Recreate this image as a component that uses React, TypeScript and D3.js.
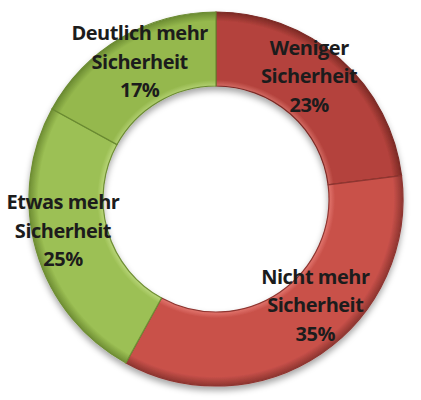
import React from 'react'
import * as d3 from 'd3'

// chart data
const categories = ['Weniger Sicherheit', 'Nicht mehr Sicherheit', 'Etwas mehr Sicherheit', 'Deutlich mehr Sicherheit']
const labelLines = [
  ['Weniger', 'Sicherheit'],
  ['Nicht mehr', 'Sicherheit'],
  ['Etwas mehr', 'Sicherheit'],
  ['Deutlich mehr', 'Sicherheit'],
]
const shares = [23, 35, 25, 17]

// styling
const palette = ['#b4423c', '#c9514a', '#9cc054', '#95b84d']
const lightPalette = ['#d36a63', '#e2766e', '#b9d67a', '#b2d071']
const darkPalette = ['#7c2a25', '#8e3530', '#6f8e34', '#6a8a31']
const labelNudge = [
  [-6, -2],
  [15, -10],
  [-9, -2],
  [0, 0],
]

const W = 421
const H = 400
const cx = 216
const cy = 199
const outerR = 187
const innerR = 113
const lineH = 28.5

export default function App() {
  const pie = d3
    .pie<number>()
    .sort(null)
    .value((d) => d)
  const arcs = pie(shares)
  const arc = d3.arc<d3.PieArcDatum<number>>().innerRadius(innerR).outerRadius(outerR)
  const labelArc = d3.arc<d3.PieArcDatum<number>>().innerRadius(150).outerRadius(150)

  return (
    <svg
      width={W}
      height={H}
      style={{ position: 'absolute', left: 0, top: 0, background: '#fff' }}
      fontFamily="'Open Sans', sans-serif"
    >
      <defs>
        <filter id="shadow" x="-20%" y="-20%" width="140%" height="140%">
          <feDropShadow dx="0" dy="4" stdDeviation="3" floodColor="#000" floodOpacity="0.35" />
        </filter>
        {palette.map((c, i) => (
          <radialGradient key={i} id={`bevel${i}`} gradientUnits="userSpaceOnUse" cx={0} cy={0} r={outerR}>
            <stop offset={innerR / outerR} stopColor={lightPalette[i]} />
            <stop offset={(innerR + 6) / outerR} stopColor={c} />
            <stop offset={0.95} stopColor={c} />
            <stop offset={1} stopColor={darkPalette[i]} />
          </radialGradient>
        ))}
      </defs>
      <g transform={`translate(${cx},${cy})`}>
        <g filter="url(#shadow)">
          {arcs.map((a, i) => (
            <path key={categories[i]} d={arc(a) ?? ''} fill={`url(#bevel${i})`} stroke={darkPalette[i]} strokeWidth={1.2} />
          ))}
        </g>
        {arcs.map((a, i) => {
          const [lx, ly] = labelArc.centroid(a)
          const x = lx + labelNudge[i][0]
          const y = ly - 7 + labelNudge[i][1] + 6
          const lines = [...labelLines[i], `${shares[i]}%`]
          return (
            <text
              key={'t' + i}
              x={x}
              y={y}
              textAnchor="middle"
              fontSize={20}
              fontWeight={700}
              fill="#1c1c1c"
              letterSpacing={-0.5}
            >
              {lines.map((l, j) => (
                <tspan key={j} x={x} y={y + (j - 1) * lineH}>
                  {l}
                </tspan>
              ))}
            </text>
          )
        })}
      </g>
    </svg>
  )
}
